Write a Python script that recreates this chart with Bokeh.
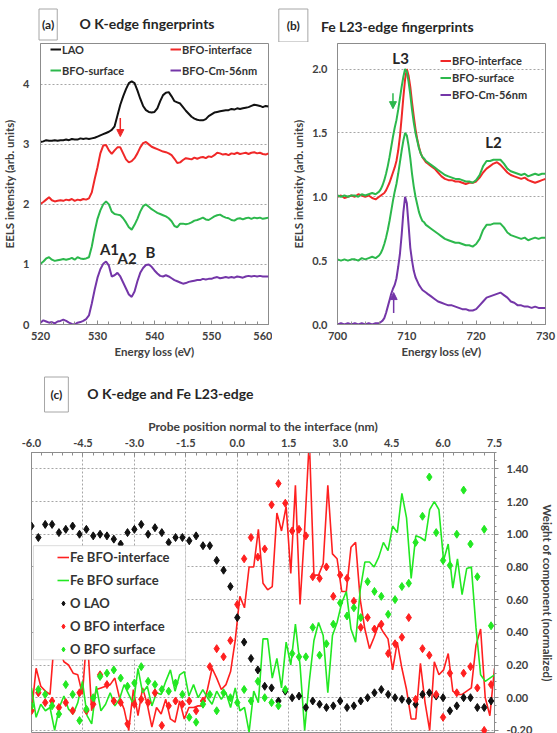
import numpy as np
from bokeh.plotting import figure
from bokeh.models import (Label, Legend, LegendItem, Arrow, NormalHead, FixedTicker,
                          PrintfTickFormatter, BoxAnnotation, Range1d)
from bokeh.layouts import column, row
from bokeh.embed import file_html
from bokeh.resources import INLINE

FONT = "Lato"
TXT = "#404040"
AXC = "#8c8c8c"

# ---------------- (a) O K-edge spectra, 0.5 eV steps from 520 to 560 eV ----------------
ok_energy = [520.0 + 0.5 * k for k in range(81)]
ok_lao = [3.04, 3.05, 3.07, 3.06, 3.06, 3.07, 3.06, 3.07, 3.07, 3.08,
          3.07, 3.09, 3.08, 3.08, 3.10, 3.09, 3.10, 3.09, 3.10, 3.11,
          3.13, 3.15, 3.17, 3.19, 3.21, 3.24, 3.30, 3.48, 3.66, 3.80,
          3.92, 4.02, 4.05, 4.02, 3.90, 3.76, 3.64, 3.57, 3.54, 3.53,
          3.54, 3.60, 3.72, 3.82, 3.86, 3.87, 3.80, 3.72, 3.70, 3.68,
          3.62, 3.56, 3.51, 3.46, 3.43, 3.41, 3.40, 3.40, 3.42, 3.47,
          3.50, 3.53, 3.54, 3.55, 3.56, 3.57, 3.57, 3.59, 3.58, 3.60,
          3.59, 3.60, 3.61, 3.62, 3.64, 3.66, 3.65, 3.64, 3.62, 3.64,
          3.63]
ok_bfo_interface = [2.01, 2.04, 2.08, 2.12, 2.07, 2.05, 2.06, 2.07, 2.06, 2.08,
                    2.07, 2.09, 2.06, 2.08, 2.07, 2.09, 2.08, 2.10, 2.20, 2.42,
                    2.62, 2.85, 2.98, 2.99, 2.90, 2.84, 2.90, 2.95, 2.95, 2.85,
                    2.75, 2.70, 2.72, 2.77, 2.85, 2.95, 3.02, 3.04, 3.00, 2.96,
                    2.94, 2.92, 2.90, 2.88, 2.87, 2.85, 2.82, 2.76, 2.69, 2.70,
                    2.74, 2.77, 2.76, 2.75, 2.78, 2.76, 2.78, 2.79, 2.77, 2.80,
                    2.79, 2.82, 2.86, 2.85, 2.83, 2.84, 2.82, 2.85, 2.84, 2.86,
                    2.84, 2.85, 2.86, 2.84, 2.86, 2.87, 2.85, 2.86, 2.84, 2.83,
                    2.85]
ok_bfo_surface = [1.01, 1.05, 1.10, 1.12, 1.08, 1.06, 1.07, 1.08, 1.09, 1.08,
                  1.09, 1.11, 1.08, 1.12, 1.10, 1.09, 1.10, 1.12, 1.30, 1.55,
                  1.76, 1.90, 2.00, 2.05, 2.00, 1.88, 1.84, 1.83, 1.82, 1.77,
                  1.70, 1.62, 1.58, 1.66, 1.76, 1.88, 1.97, 2.00, 1.96, 1.92,
                  1.89, 1.86, 1.84, 1.82, 1.80, 1.77, 1.72, 1.64, 1.62, 1.68,
                  1.68, 1.67, 1.68, 1.70, 1.73, 1.74, 1.76, 1.78, 1.75, 1.74,
                  1.77, 1.80, 1.82, 1.83, 1.80, 1.78, 1.77, 1.74, 1.73, 1.76,
                  1.77, 1.75, 1.77, 1.78, 1.76, 1.78, 1.77, 1.78, 1.76, 1.77,
                  1.78]
ok_bfo_cm = [0.03, 0.07, 0.05, 0.03, 0.04, 0.02, 0.05, 0.06, 0.08, 0.06,
             0.03, 0.01, 0.00, 0.03, 0.04, 0.06, 0.09, 0.15, 0.35, 0.58,
             0.78, 0.92, 1.01, 1.05, 0.98, 0.80, 0.82, 0.86, 0.80, 0.70,
             0.60, 0.50, 0.46, 0.55, 0.72, 0.86, 0.94, 0.99, 1.00, 0.96,
             0.90, 0.85, 0.81, 0.80, 0.82, 0.80, 0.77, 0.74, 0.72, 0.70,
             0.68, 0.69, 0.71, 0.72, 0.73, 0.74, 0.74, 0.76, 0.75, 0.76,
             0.76, 0.78, 0.79, 0.77, 0.78, 0.79, 0.78, 0.79, 0.78, 0.80,
             0.79, 0.78, 0.80, 0.81, 0.80, 0.81, 0.80, 0.81, 0.80, 0.80,
             0.80]

# ---------------- (b) Fe L23-edge spectra (normalised, stacked by offset) ----------------
fe_energy = ([700.0, 700.5, 701.0, 701.5, 702.0, 702.5, 703.0, 703.5, 704.0, 704.5, 705.0, 705.5, 706.0]
             + [706.0 + 0.25 * k for k in range(1, 29)]
             + [713.0 + 0.5 * k for k in range(1, 35)])
fe_bfo_interface = ([0.00, 0.01, -0.01, 0.00, 0.01, 0.00, 0.02, 0.01, 0.00, 0.01, -0.01, -0.02, 0.00]
                    + [0.01, 0.02, 0.03, 0.05, 0.08, 0.11, 0.15, 0.19, 0.23, 0.28,
                       0.36, 0.47, 0.62, 0.78, 0.92, 1.00, 0.95, 0.86, 0.74, 0.63,
                       0.53, 0.45, 0.39, 0.34, 0.31, 0.29, 0.27, 0.26]
                    + [0.24, 0.22, 0.19, 0.16, 0.14, 0.13, 0.13, 0.12, 0.12, 0.11,
                       0.10, 0.11, 0.11, 0.12, 0.15, 0.19, 0.22, 0.24, 0.26, 0.27,
                       0.25, 0.22, 0.19, 0.17, 0.16, 0.15, 0.14, 0.15, 0.13, 0.12,
                       0.11, 0.12, 0.13, 0.14])
fe_bfo_surface = ([0.01, 0.00, 0.01, 0.00, 0.01, 0.01, 0.00, 0.02, 0.01, 0.02, 0.03, 0.02, 0.04]
                  + [0.06, 0.09, 0.13, 0.18, 0.24, 0.31, 0.39, 0.47, 0.54, 0.60,
                     0.68, 0.77, 0.86, 0.94, 1.00, 0.98, 0.90, 0.80, 0.68, 0.58,
                     0.50, 0.44, 0.38, 0.34, 0.31, 0.30, 0.28, 0.27]
                  + [0.25, 0.23, 0.21, 0.19, 0.17, 0.16, 0.15, 0.14, 0.14, 0.13,
                     0.12, 0.12, 0.11, 0.13, 0.17, 0.24, 0.28, 0.28, 0.29, 0.29,
                     0.29, 0.26, 0.22, 0.20, 0.19, 0.18, 0.17, 0.18, 0.16, 0.17,
                     0.18, 0.17, 0.18, 0.18])
fe_bfo_cm = ([0.00, 0.01, 0.00, 0.01, 0.00, 0.01, 0.00, 0.01, 0.00, 0.01, 0.00, 0.01, 0.01]
             + [0.02, 0.03, 0.05, 0.09, 0.14, 0.19, 0.24, 0.28, 0.31, 0.36,
                0.45, 0.55, 0.70, 0.88, 1.00, 0.95, 0.78, 0.60, 0.50, 0.42,
                0.37, 0.34, 0.31, 0.29, 0.27, 0.26, 0.25, 0.24]
             + [0.22, 0.20, 0.18, 0.17, 0.16, 0.15, 0.15, 0.14, 0.13, 0.12,
                0.12, 0.11, 0.11, 0.12, 0.15, 0.18, 0.21, 0.22, 0.23, 0.24,
                0.25, 0.23, 0.21, 0.18, 0.17, 0.15, 0.15, 0.14, 0.14, 0.13,
                0.14, 0.13, 0.13, 0.13])
offset_interface = 1.0
offset_surface = [1.0, 0.5]
offset_cm = 0.0

# ---------------- (c) component weights along the probe line ----------------
fe_position = np.round(np.linspace(-6.0, 7.5, 101), 3)
fe_weight_interface = [
    -0.09, 0.18, 0.07, 0.04, 0.02, 0.38, 0.30, 0.22, 0.20, 0.15,
    0.14, 0.02, 0.40, -0.08, 0.05, 0.06, 0.07, 0.08, 0.12, 0.00,
    -0.07, -0.20, 0.05, -0.11, 0.06, -0.04, -0.18, -0.06, -0.10, -0.01,
    -0.13, -0.15, -0.02, -0.13, -0.06, -0.06, -0.05, -0.05, 0.05, 0.18,
    0.12, 0.05, 0.08, 0.16, 0.35, 0.62, 0.55, 0.80, 0.80, 1.03,
    0.70, 0.66, 0.68, 1.13, 1.02, 1.17, 0.76, 1.30, 0.57, 1.03,
    1.58, 0.75, 0.75, 0.82, 1.30, 0.88, 0.85, 0.65, 0.65, 0.92,
    0.95, 0.60, 0.42, 0.30, 0.37, 0.45, 0.40, 0.36, 0.17, 0.34,
    0.18, 0.05, -0.13, -0.13, 0.21, -0.03, -0.20, 0.22, 0.14, 0.17,
    0.27, 0.04, 0.02, 0.02, 0.04, 0.06, 0.32, 0.42, 0.00, -0.11,
    0.18]
fe_weight_surface = [
    0.06, -0.12, -0.04, -0.08, -0.06, -0.20, -0.06, 0.01, -0.07, -0.10,
    -0.03, 0.10, -0.11, -0.16, 0.07, -0.08, -0.04, 0.03, -0.05, -0.01,
    0.08, 0.02, -0.04, 0.18, 0.03, 0.07, -0.05, 0.03, 0.02, 0.10,
    0.17, 0.04, 0.14, 0.16, 0.01, 0.08, 0.00, 0.05, 0.00, -0.04,
    0.04, -0.01, 0.03, -0.06, 0.06, -0.08, -0.06, -0.21, 0.04, -0.03,
    0.36, 0.36, 0.12, 0.24, 0.06, 0.34, 0.20, 0.45, 0.20, -0.20,
    0.10, 0.35, 0.46, 0.38, 0.03, 0.38, 0.46, 0.58, 0.65, 0.42,
    0.34, 0.66, 0.83, 0.83, 0.80, 0.86, 0.95, 0.90, 1.05, 1.01,
    1.25, 1.10, 0.73, 0.99, 0.98, 0.96, 1.15, 1.20, 1.15, 0.84,
    0.94, 0.67, 0.85, 0.63, 0.79, 0.80, 0.43, 0.14, 0.10, 0.12,
    0.14]

o_position = np.round(np.arange(68) * 0.2 - 6.0, 1)
o_weight_lao = [
    1.05, 0.98, 1.06, 1.06, 1.01, 1.03, 1.05, 1.00, 1.03, 0.99,
    1.00, 0.99, 0.97, 0.94, 1.01, 1.03, 1.06, 1.00, 1.04, 1.01,
    0.95, 0.98, 0.98, 0.96, 0.99, 0.93, 0.93, 0.84, 0.78, 0.68,
    0.49, 0.34, 0.24, 0.17, 0.07, 0.06, -0.02, 0.04, 0.00, 0.01,
    -0.06, -0.02, -0.04, -0.06, -0.05, -0.02, -0.06, -0.05, -0.02, 0.00,
    0.03, 0.05, 0.02, 0.00, -0.01, -0.02, -0.04, 0.02, 0.03, 0.01,
    0.00, -0.08, -0.05, 0.00, 0.00, -0.06, -0.06, -0.02]
o_weight_interface = [
    -0.08, 0.03, -0.03, -0.02, -0.06, -0.03, -0.08, 0.03, -0.08, -0.04,
    0.14, 0.08, -0.02, -0.03, -0.16, -0.04, -0.01, -0.03, 0.03, -0.17,
    -0.05, -0.02, -0.04, -0.02, -0.08, -0.02, 0.19, 0.30, 0.25, 0.35,
    0.57, 0.85, 0.98, 0.86, 0.91, 1.18, 1.31, 1.19, 1.02, 1.03,
    0.99, 0.74, 0.73, 0.80, 0.62, 0.75, 0.73, 0.59, 0.43, 0.49,
    0.42, 0.45, 0.27, 0.33, 0.37, 0.49, -0.01, 0.30, 0.26, 0.02,
    -0.12, 0.15, 0.03, 0.15, 0.19, 0.06, -0.20, 0.08]
o_weight_surface = [
    -0.05, 0.05, 0.02, -0.05, -0.10, 0.08, 0.02, -0.14, -0.07, 0.00,
    0.13, 0.15, 0.17, 0.12, 0.07, 0.09, 0.19, 0.10, 0.08, 0.05,
    0.04, 0.09, 0.02, -0.12, -0.15, -0.04, 0.02, -0.08, 0.03, 0.00,
    -0.03, 0.05, -0.02, 0.10, 0.00, -0.03, -0.05, 0.05, 0.27, 0.25,
    0.25, 0.43, 0.26, 0.33, 0.45, 0.58, 0.50, 0.55, 0.49, 0.71,
    0.65, 0.62, 0.51, 0.60, 0.68, 0.70, 0.95, 1.11, 1.35, 1.01,
    0.84, 0.81, 1.00, 1.27, 0.94, 0.74, 1.03, 0.44]

RED = "#f02828"
GREEN = "#2cb84c"
PURPLE = "#7436a8"
BLACK = "#111111"
RED_C = "#ff2020"
GREEN_C = "#22e822"


def style_axis(ax, tick_in=0, tick_out=0, minor_in=0, minor_out=0, standoff=8, label_standoff=4):
    ax.axis_line_color = AXC
    ax.major_tick_line_color = AXC
    ax.minor_tick_line_color = AXC
    ax.major_tick_in = tick_in
    ax.major_tick_out = tick_out
    ax.minor_tick_in = minor_in
    ax.minor_tick_out = minor_out
    ax.major_label_standoff = standoff
    ax.axis_label_standoff = label_standoff
    ax.major_label_text_font = FONT
    ax.major_label_text_font_style = "bold"
    ax.major_label_text_font_size = "11px"
    ax.major_label_text_color = TXT
    ax.axis_label_text_font = FONT
    ax.axis_label_text_font_style = "bold"
    ax.axis_label_text_font_size = "11.5px"
    ax.axis_label_text_color = TXT


def style_grid(g):
    g.grid_line_color = "#a6a6a6"
    g.grid_line_dash = "2 2"
    g.grid_line_width = 1


def header(width, height):
    # blank strip whose data space is plain pixels, measured from its top-left corner
    h = figure(width=width, height=height, x_range=Range1d(0, width), y_range=Range1d(height, 0),
               x_axis_location=None, y_axis_location=None, title=None,
               output_backend="svg", toolbar_location=None,
               min_border_left=0, min_border_right=0, min_border_top=0, min_border_bottom=0)
    h.grid.visible = False
    h.outline_line_color = None
    return h


def head_text(h, x, y, text, size="14px", box_pad=None):
    kw = dict(x=x, y=y, text=text, text_align="center", text_baseline="middle",
              text_font=FONT, text_font_style="bold", text_font_size=size,
              text_color="#262626")
    if box_pad is not None:
        # box_pad = (horizontal, vertical)
        kw.update(border_line_color="#a6a6a6", border_line_width=1,
                  background_fill_color="white", padding=box_pad)
    h.add_layout(Label(**kw))


def data_label(p, x, y, text, size="15px"):
    p.add_layout(Label(x=x, y=y, text=text, text_align="center", text_baseline="middle",
                       text_font=FONT, text_font_style="bold", text_font_size=size,
                       text_color="#262626"))


def legend(items, loc, size, row_h, spacing, glyph_w):
    return Legend(items=items, location=loc, orientation="vertical", padding=0, margin=0,
                  spacing=spacing, label_height=row_h, glyph_height=row_h, glyph_width=glyph_w,
                  label_standoff=1, label_text_font=FONT, label_text_font_style="bold",
                  label_text_font_size=size, label_text_color="#333333",
                  background_fill_alpha=0, border_line_alpha=0)


# ================= headings for (a) and (b) =================
head_ab = header(557, 42)
head_text(head_ab, 20, 24, "(a)", "12px", box_pad=(3, 8))
head_text(head_ab, 139, 23, "O K-edge fingerprints")
head_text(head_ab, 315, 25, "(b)", "12px", box_pad=(8, 9))
head_text(head_ab, 440, 26, "Fe L23-edge fingerprints")

# ================= panel (a) =================
pa = figure(width=272, height=328, x_range=Range1d(520, 560), y_range=Range1d(0, 4.68),
            title=None, output_backend="svg", toolbar_location=None,
            min_border_left=35, min_border_right=4, min_border_top=0, min_border_bottom=45)
pa.outline_line_color = AXC
pa.xaxis.ticker = FixedTicker(ticks=[520, 530, 540, 550, 560], minor_ticks=list(range(520, 561, 2)))
pa.yaxis.ticker = FixedTicker(ticks=[0, 1, 2, 3, 4])
pa.xaxis.axis_label = "Energy loss (eV)"
pa.yaxis.axis_label = "EELS intensity (arb. units)"
style_axis(pa.xaxis[0], tick_in=4, minor_in=3, standoff=7, label_standoff=2)
style_axis(pa.yaxis[0], tick_out=0, standoff=11, label_standoff=4)
pa.xgrid.visible = False
style_grid(pa.ygrid[0])

ra1 = pa.line(ok_energy, ok_lao, line_color=BLACK, line_width=2)
ra2 = pa.line(ok_energy, ok_bfo_interface, line_color=RED, line_width=2)
ra3 = pa.line(ok_energy, ok_bfo_surface, line_color=GREEN, line_width=2)
ra4 = pa.line(ok_energy, ok_bfo_cm, line_color=PURPLE, line_width=2)

pa.add_layout(legend([LegendItem(label="LAO", renderers=[ra1]),
                      LegendItem(label="BFO-surface", renderers=[ra3])],
                     (10, 246), "11px", 16, 5, 11))
pa.add_layout(legend([LegendItem(label="BFO-interface", renderers=[ra2]),
                      LegendItem(label="BFO-Cm-56nm", renderers=[ra4])],
                     (130, 246), "11px", 16, 5, 11))

pa.add_layout(Arrow(end=NormalHead(size=7, fill_color=RED, line_color=RED),
                    x_start=534.0, y_start=3.44, x_end=534.0, y_end=3.13,
                    line_color=RED, line_width=1.5))
data_label(pa, 532.1, 1.26, "A1")
data_label(pa, 535.2, 1.11, "A2")
data_label(pa, 539.3, 1.20, "B")

# ================= panel (b) =================
pb = figure(width=285, height=328, x_range=Range1d(700, 730), y_range=Range1d(0, 2.2),
            title=None, output_backend="svg", toolbar_location=None,
            min_border_left=65, min_border_right=12, min_border_top=1, min_border_bottom=46)
pb.outline_line_color = AXC
pb.xaxis.ticker = FixedTicker(ticks=[700, 710, 720, 730], minor_ticks=list(range(700, 731, 2)))
pb.yaxis.ticker = FixedTicker(ticks=[0.0, 0.5, 1.0, 1.5, 2.0])
pb.yaxis.formatter = PrintfTickFormatter(format="%.1f")
pb.xaxis.axis_label = "Energy loss (eV)"
pb.yaxis.axis_label = "EELS intensity (arb. units)"
style_axis(pb.xaxis[0], tick_in=4, minor_in=3, standoff=7, label_standoff=2)
style_axis(pb.yaxis[0], tick_out=0, standoff=10, label_standoff=4)
pb.xgrid.visible = False
style_grid(pb.ygrid[0])

fe_e = np.array(fe_energy)
rb1 = pb.line(fe_e, np.array(fe_bfo_interface) + offset_interface, line_color=RED, line_width=2)
rb2 = pb.line(fe_e, np.array(fe_bfo_surface) + offset_surface[0], line_color=GREEN, line_width=2)
pb.line(fe_e, np.array(fe_bfo_surface) + offset_surface[1], line_color=GREEN, line_width=2)
rb3 = pb.line(fe_e, np.array(fe_bfo_cm) + offset_cm, line_color=PURPLE, line_width=2)

pb.add_layout(legend([LegendItem(label="BFO-interface", renderers=[rb1]),
                      LegendItem(label="BFO-surface", renderers=[rb2]),
                      LegendItem(label="BFO-Cm-56nm", renderers=[rb3])],
                     (103, 222), "11px", 15, 2, 11))
pb.add_layout(Arrow(end=NormalHead(size=7, fill_color=GREEN, line_color=GREEN),
                    x_start=708.0, y_start=1.81, x_end=708.0, y_end=1.69,
                    line_color=GREEN, line_width=1.5))
pb.add_layout(Arrow(end=NormalHead(size=7, fill_color=PURPLE, line_color=PURPLE),
                    x_start=708.1, y_start=0.09, x_end=708.1, y_end=0.25,
                    line_color=PURPLE, line_width=1.5))
data_label(pb, 709.1, 2.09, "L3")
data_label(pb, 722.5, 1.43, "L2")

# ================= heading for (c) =================
head_c = header(557, 44)
head_text(head_c, 30, 24, "(c)", "12px", box_pad=(6, 10))
head_text(head_c, 167, 23, "O K-edge and Fe L23-edge")

# ================= panel (c) =================
pc = figure(width=557, height=319, x_range=Range1d(-6.0, 7.5), y_range=Range1d(-0.219, 1.50),
            x_axis_location="above", y_axis_location="right",
            title=None, output_backend="svg", toolbar_location=None,
            min_border_left=31, min_border_right=54, min_border_top=38, min_border_bottom=0)
pc.outline_line_color = AXC
x_major = [-6.0, -4.5, -3.0, -1.5, 0.0, 1.5, 3.0, 4.5, 6.0, 7.5]
pc.xaxis.ticker = FixedTicker(ticks=x_major, minor_ticks=list(np.round(np.arange(-6.0, 7.51, 0.3), 2)))
pc.xaxis.formatter = PrintfTickFormatter(format="%.1f")
pc.yaxis.ticker = FixedTicker(ticks=[-0.2, 0.0, 0.2, 0.4, 0.6, 0.8, 1.0, 1.2, 1.4],
                              minor_ticks=list(np.round(np.arange(-0.2, 1.51, 0.05), 2)))
pc.yaxis.formatter = PrintfTickFormatter(format="%.2f")
pc.xaxis.axis_label = "Probe position normal to the interface (nm)"
pc.yaxis.axis_label = "Weight of component (normalized)"
style_axis(pc.xaxis[0], tick_in=4, minor_in=3, standoff=6, label_standoff=2)
style_axis(pc.yaxis[0], tick_out=4, minor_out=2, standoff=8, label_standoff=6)
pc.xaxis[0].axis_label_text_font_size = "12px"
style_grid(pc.xgrid[0])
style_grid(pc.ygrid[0])

rc1 = pc.line(fe_position, fe_weight_interface, line_color=RED_C, line_width=1.6)
rc2 = pc.line(fe_position, fe_weight_surface, line_color=GREEN_C, line_width=1.6)
rc3 = pc.scatter(o_position, o_weight_lao, marker="diamond", size=8, color=BLACK)
rc4 = pc.scatter(o_position, o_weight_interface, marker="diamond", size=8, color=RED_C)
rc5 = pc.scatter(o_position, o_weight_surface, marker="diamond", size=8, color=GREEN_C)

# white legend panel
pc.add_layout(BoxAnnotation(left=-5.943, right=-1.509, top=0.930, bottom=0.232,
                            fill_color="white", fill_alpha=1.0,
                            line_color="#8c8c8c", line_width=1))
pc.add_layout(legend([LegendItem(label="Fe BFO-interface", renderers=[rc1]),
                      LegendItem(label="Fe BFO surface", renderers=[rc2]),
                      LegendItem(label="O LAO", renderers=[rc3]),
                      LegendItem(label="O BFO interface", renderers=[rc4]),
                      LegendItem(label="O BFO surface", renderers=[rc5])],
                     (26, 74), "13px", 20, 3, 12))

layout = column(head_ab, row(pa, pb), head_c, pc)
open("out.html", "w").write(file_html(layout, INLINE))
